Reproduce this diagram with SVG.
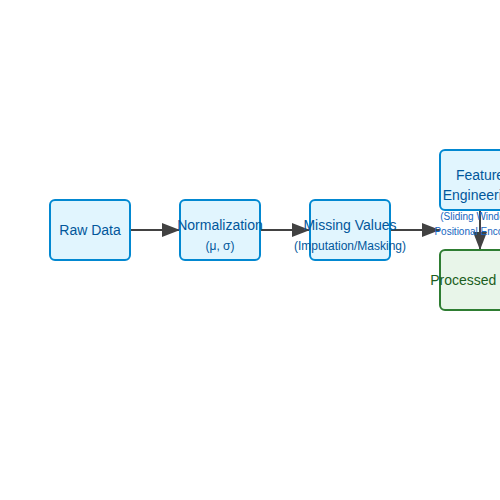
<svg xmlns="http://www.w3.org/2000/svg" width="500" height="500" viewBox="0 0 500 500">
<style>
.box{fill:#e1f5fe;stroke:#0288d1;stroke-width:2}
.out{fill:#e8f5e9;stroke:#2e7d32;stroke-width:2}
.t{font-family:"Liberation Sans",Arial,sans-serif;font-size:14px;fill:#01579b;text-anchor:middle}
.s{font-family:"Liberation Sans",Arial,sans-serif;font-size:12px;fill:#01579b;text-anchor:middle}
.xs{font-family:"Liberation Sans",Arial,sans-serif;font-size:10px;fill:#1565c0;text-anchor:middle}
.g{font-family:"Liberation Sans",Arial,sans-serif;font-size:14px;fill:#1b5e20;text-anchor:middle}
.c{stroke:#424242;stroke-width:2;fill:none;marker-end:url(#ah)}
</style>
<defs>
<marker id="ah" viewBox="0 0 10 10" refX="10" refY="5" markerWidth="9" markerHeight="7" markerUnits="strokeWidth" orient="auto" preserveAspectRatio="none">
<path d="M0,0 L10,5 L0,10 z" fill="#424242"/>
</marker>
</defs>
<rect width="500" height="500" fill="#fff"/>
<g id="connectors">
<line class="c" x1="130" y1="230" x2="180" y2="230"/>
<line class="c" x1="260" y1="230" x2="310" y2="230"/>
<line class="c" x1="390" y1="230" x2="440" y2="230"/>
<line class="c" x1="480" y1="210" x2="480" y2="250"/>
</g>
<g id="raw">
<rect class="box" x="50" y="200" width="80" height="60" rx="5"/>
<text class="t" x="90" y="235">Raw Data</text>
</g>
<g id="norm">
<rect class="box" x="180" y="200" width="80" height="60" rx="5"/>
<text class="t" x="220" y="230">Normalization</text>
<text class="s" x="220" y="250">(μ, σ)</text>
</g>
<g id="missing">
<rect class="box" x="310" y="200" width="80" height="60" rx="5"/>
<text class="t" x="350" y="230">Missing Values</text>
<text class="s" x="350" y="250">(Imputation/Masking)</text>
</g>
<g id="feature">
<rect class="box" x="440" y="150" width="80" height="60" rx="5"/>
<text class="t" x="480" y="180">Feature</text>
<text class="t" x="480" y="200">Engineering</text>
<text class="xs" x="480" y="220">(Sliding Windows,</text>
<text class="xs" x="480" y="235">Positional Encoding)</text>
</g>
<g id="processed">
<rect class="out" x="440" y="250" width="80" height="60" rx="5"/>
<text class="g" x="480" y="285">Processed Data</text>
</g>
</svg>
